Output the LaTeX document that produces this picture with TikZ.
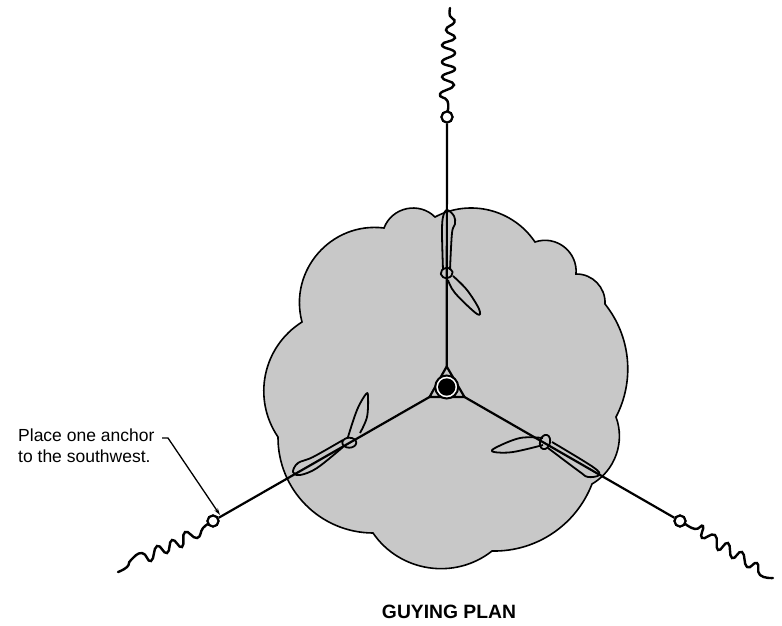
\documentclass[tikz,border=0pt]{standalone}
\usepackage{fontspec}
\setmainfont{Liberation Sans}
\usetikzlibrary{arrows.meta}
\tikzset{
  ground/.style={draw=black,line width=1.6pt,fill=groundgray,line join=miter},
  guy/.style={draw=black,line width=2.2pt},
  blade/.style={draw=black,line width=1.8pt,line join=round},
  spring/.style={draw=black,line width=2.4pt,smooth,tension=0.9,line cap=round},
  anchorring/.style={circle,draw=black,line width=2.1pt,fill=white,minimum size=11pt,inner sep=0pt},
  leader/.style={draw=black,line width=1.3pt,-{Stealth[length=7pt,width=4pt]}},
  note/.style={font=\fontsize{17.5}{20.8}\selectfont,align=left,inner sep=0pt,anchor=north west},
  title/.style={font=\fontsize{19.3}{21}\selectfont\bfseries,inner sep=0pt}
}
\definecolor{groundgray}{HTML}{C8C8C8}
\begin{document}
\begin{tikzpicture}[x=1pt,y=-1pt]
\useasboundingbox (0,0) rectangle (782,625);
% ground patch
\path[ground] (435,217)
 to[bend left=42,looseness=0.98] (535,242)
 to[bend left=57,looseness=1.10] (576,274)
 to[bend left=47,looseness=1.01] (605,304)
 to[bend left=33,looseness=0.93] (616,417)
 to[bend left=40,looseness=0.96] (592,484)
 to[bend left=35,looseness=0.94] (492,551)
 to[bend left=47,looseness=1.01] (373,533)
 to[bend left=45,looseness=1.00] (278,437)
 to[bend left=46,looseness=1.01] (302,322)
 to[bend left=56,looseness=1.09] (384,228)
 to[bend left=57,looseness=1.10] (435,217) -- cycle;
% named points
\coordinate (apex) at (446.7,366.5);
\coordinate (hl) at (429.5,397);
\coordinate (hr) at (464.5,397);
\node[anchorring] (atop) at (447,117) {};
\node[anchorring] (aleft) at (213,521) {};
\node[anchorring] (aright) at (680,521) {};
\coordinate (leaderknee) at (168,438);
\coordinate (leaderstart) at (162,438);
\coordinate (leaderend) at (220,515);
% guys
\draw[guy] (apex) -- (atop);
\draw[guy] (hl) -- (aleft);
\draw[guy] (hr) -- (aright);
% springs
\draw[spring] plot coordinates {(450,8) (450,16) (454.5,22) (446,30) (455,38) (442,45) (455,53) (442,62) (455,69) (442,77) (454,85) (440,94) (447.5,101) (447.5,112)};
\draw[spring] plot coordinates {(118,572) (127,567) (131,560) (142,553) (151,561) (157,546) (167,553) (172,540) (182,547) (185,532) (197,538) (203,528) (210,523)};
\draw[spring] plot coordinates {(684,523) (695,529) (703,526) (702,538) (715,535) (718,550) (728,543) (732,558) (742,552) (747,567) (757,563) (760,575) (773,578)};
\node[anchorring] at (atop) {};
\node[anchorring] at (aleft) {};
\node[anchorring] at (aright) {};
% top screw
\draw[blade] plot[smooth,tension=0.6] coordinates {(443,270) (442,233) (443,217) (447,210) (454,216) (455,224) (452,233) (450,270)};
\draw[blade] plot[smooth,tension=0.6] coordinates {(448,280) (455,293) (477,314) (479,309) (467,290) (453,276)};
\draw[blade,rotate around={10:(446.7,273)}] (446.7,273) ellipse [x radius=6,y radius=5];
% left screw
\draw[blade] plot[smooth,tension=0.6] coordinates {(348,437) (357,410) (366,394) (368,397) (367,417) (360,433)};
\draw[blade] plot[smooth,tension=0.6] coordinates {(343,440) (313,457) (298,463) (293,472) (300,475) (317,468) (343,447)};
\draw[blade] (349.3,442.7) ellipse [x radius=7,y radius=5];
% right screw
\draw[blade] plot[smooth,tension=0.6] coordinates {(543,438) (520,438) (495,448) (494,452) (513,452) (543,445)};
\draw[blade] plot[smooth,tension=0.6] coordinates {(552,442) (593,467) (599,475) (588,477) (580,472) (548,448)};
\draw[blade,rotate around={-15:(545,442)}] (545,442) ellipse [x radius=5,y radius=7.3];
% hub
\draw[guy,fill=groundgray,line join=round] (apex) -- (hr) -- (hl) -- cycle;
\draw[black,line width=2pt,fill=white] (446.7,387) circle [radius=11.5];
\fill[black] (446.7,387) circle [radius=8.7];
% note
\node[note] (notetext) at (18,429) {Place one anchor\\to the southwest.};
\draw[leader] (leaderstart) -- (leaderknee) -- (leaderend);
\node[title] (plantitle) at (449,612) {GUYING PLAN};
\end{tikzpicture}
\end{document}
